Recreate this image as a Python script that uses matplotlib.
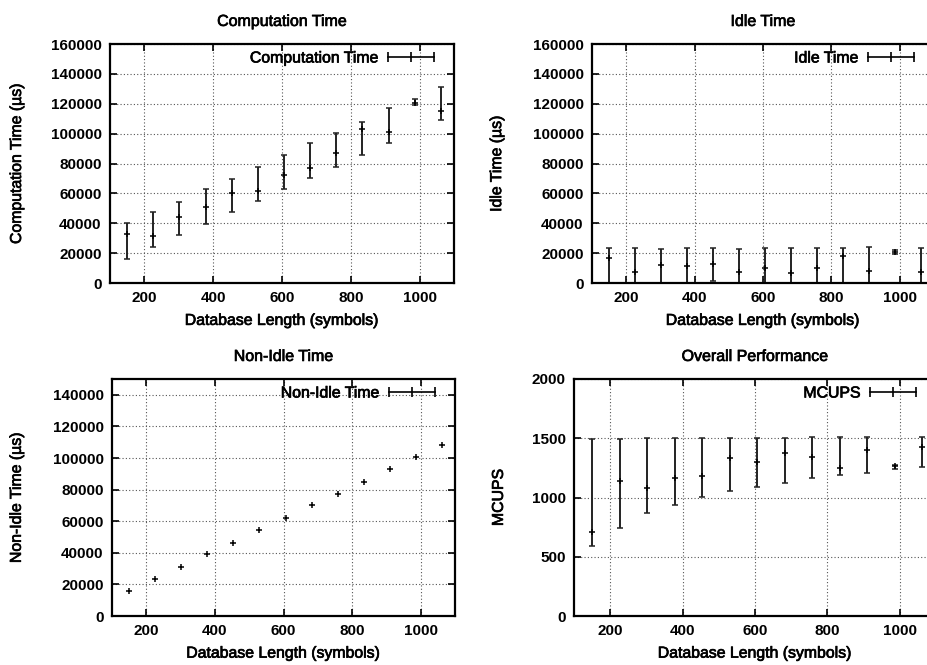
import numpy as np
import matplotlib
matplotlib.use("Agg")
import matplotlib.pyplot as plt
import matplotlib.patheffects as pe
from matplotlib.lines import Line2D

plt.rcParams['font.family'] = ['Liberation Sans', 'DejaVu Sans']

# database lengths (symbols)
db_len = [150, 226, 302, 378, 454, 530, 606, 682, 758, 834, 910, 986, 1062]

# computation time (us): mean, lower, upper
comp = [33100, 31300, 43900, 50800, 60000, 61800, 72500, 76800, 87100, 103400, 100900, 120800, 115300]
comp_lo = [16300, 23900, 31800, 39400, 47200, 54800, 62700, 70000, 77900, 85500, 93500, 119300, 108800]
comp_hi = [40300, 47700, 54400, 62700, 69800, 77900, 85500, 93500, 100500, 108100, 117000, 122900, 130900]

# idle time (us)
idle = [17000, 7400, 11900, 11400, 12500, 7400, 10100, 6500, 10100, 18400, 8100, 20800, 7200]
idle_lo = [0, 0, 0, 0, 1500, 0, 0, 0, 0, 0, 0, 19200, 0]
idle_hi = [23500, 23500, 22800, 23500, 23100, 22800, 23500, 23500, 23300, 23500, 24000, 22400, 23100]

# non-idle time (us)
nonidle = [16000, 23500, 31000, 39000, 46500, 54500, 62000, 70000, 77500, 85000, 93000, 100500, 108500]

# overall performance (MCUPS)
mcups = [712, 1142, 1080, 1162, 1184, 1336, 1302, 1376, 1345, 1249, 1398, 1266, 1429]
mcups_lo = [591, 740, 866, 934, 1004, 1058, 1091, 1122, 1162, 1190, 1207, 1243, 1255]
mcups_hi = [1491, 1497, 1499, 1499, 1499, 1505, 1505, 1505, 1508, 1513, 1513, 1277, 1513]

W, H = 928, 665
fig = plt.figure(figsize=(W / 100, H / 100), dpi=100)

# scanned look: slightly heavier strokes on text
heavy = [pe.withStroke(linewidth=0.5, foreground="black")]


def add_ax(l, t, r, b):
    return fig.add_axes([l / W, 1 - b / H, (r - l) / W, (b - t) / H])


def style(ax, title, ylabel, ylim, yticks, label, ylx, boxpx):
    ax.set_xlim(100, 1100)
    ax.set_ylim(*ylim)
    ax.set_xticks([200, 400, 600, 800, 1000])
    ax.set_yticks(yticks)
    ax.grid(True, color="#555555", linestyle=(0, (1, 2)), linewidth=0.8)
    ax.tick_params(direction="in", top=True, right=True, length=5, width=1.2,
                   labelsize=11, pad=6)
    for t in ax.get_xticklabels() + ax.get_yticklabels():
        t.set_fontweight("bold")
    for s in ax.spines.values():
        s.set_linewidth(1.6)
    ax.set_title(title, fontsize=11.5, pad=13, path_effects=heavy)
    ax.set_xlabel("Database Length (symbols)", fontsize=11.4, path_effects=heavy)
    ax.xaxis.set_label_coords(0.5, -0.125)
    ax.set_ylabel(ylabel, fontsize=11.4, path_effects=heavy)
    ax.yaxis.set_label_coords(ylx, 0.5)
    w, h = boxpx
    handle = Line2D([], [], color="black", marker="|", markersize=7, lw=1.2,
                    markeredgewidth=1.2)
    leg = ax.legend([handle], [label], loc="center right", frameon=False,
                    markerfirst=False, numpoints=3, handlelength=3.5,
                    handletextpad=0.3, borderaxespad=0, fontsize=11.4,
                    bbox_to_anchor=(1 - 9 / w, 1 - 14 / h))
    for t in leg.get_texts():
        t.set_path_effects(heavy)


def ebar(ax, y, lo, hi, ms=4):
    y = np.array(y)
    err = [y - np.array(lo), np.array(hi) - y]
    ax.errorbar(db_len, y, yerr=err, fmt="+", color="black", ecolor="#222222",
                elinewidth=1.4, capsize=2.5, capthick=1.3, markersize=ms,
                markeredgewidth=1.1)


ax1 = add_ax(110, 44, 454, 283)
ebar(ax1, comp, comp_lo, comp_hi)
style(ax1, "Computation Time", "Computation Time (µs)", (0, 160000),
      np.arange(0, 160001, 20000), "Computation Time", -0.25, (344, 239))

ax2 = add_ax(592, 44, 934, 283)
ebar(ax2, idle, idle_lo, idle_hi)
style(ax2, "Idle Time", "Idle Time (µs)", (0, 160000),
      np.arange(0, 160001, 20000), "Idle Time", -0.257, (342, 239))

ax3 = add_ax(112, 379, 455, 616)
ax3.errorbar(db_len, nonidle, yerr=0, fmt="+", color="black", markersize=5,
             markeredgewidth=1.1)
style(ax3, "Non-Idle Time", "Non-Idle Time (µs)", (0, 150000),
      np.arange(0, 140001, 20000), "Non-Idle Time", -0.257, (343, 237))

ax4 = add_ax(574, 379, 936, 616)
ebar(ax4, mcups, mcups_lo, mcups_hi)
style(ax4, "Overall Performance", "MCUPS", (0, 2000),
      np.arange(0, 2001, 500), "MCUPS", -0.188, (362, 237))

fig.savefig("out.png", dpi=100)
